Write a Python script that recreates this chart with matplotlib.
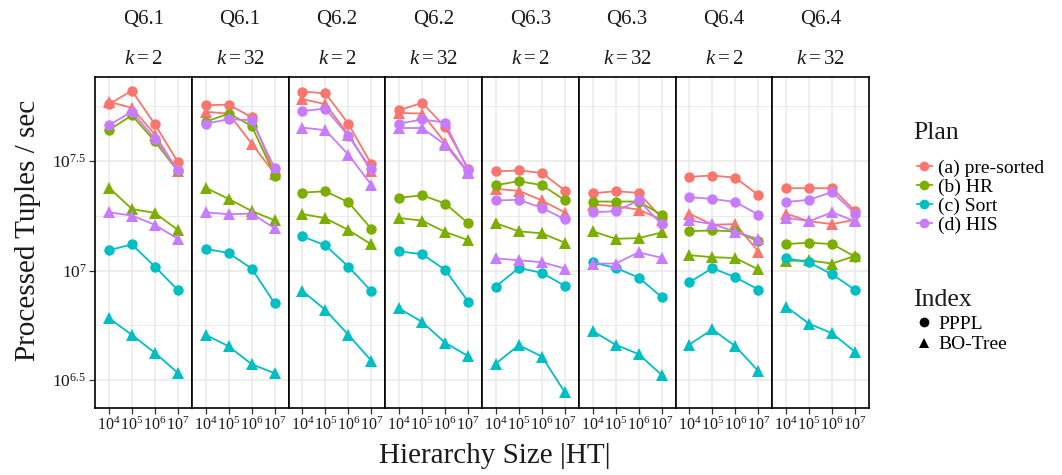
import matplotlib
matplotlib.use("Agg")
import matplotlib.pyplot as plt
from matplotlib.lines import Line2D
import numpy as np

plt.rcParams["font.family"] = ["Liberation Serif", "DejaVu Serif"]
plt.rcParams["mathtext.fontset"] = "custom"
plt.rcParams["mathtext.rm"] = "Liberation Serif"
plt.rcParams["mathtext.it"] = "Liberation Serif:italic"

# Facets: query and k
queries = ["Q6.1", "Q6.1", "Q6.2", "Q6.2", "Q6.3", "Q6.3", "Q6.4", "Q6.4"]
ks = [2, 32, 2, 32, 2, 32, 2, 32]

# Hierarchy sizes |HT|
sizes = [1e4, 1e5, 1e6, 1e7]
size_labels = ["$10^4$", "$10^5$", "$10^6$", "$10^7$"]

plans = ["(a) pre-sorted", "(b) HR", "(c) Sort", "(d) HIS"]
plan_colors = ["#F8766D", "#7CAE00", "#00BFC4", "#C77CFF"]
indexes = ["PPPL", "BO-Tree"]
index_markers = ["o", "^"]

# log10(processed tuples / sec) per facet, plan, index
presorted_pppl = [
    [7.760, 7.821, 7.668, 7.495], [7.755, 7.758, 7.700, 7.442],
    [7.817, 7.810, 7.670, 7.485], [7.732, 7.766, 7.656, 7.465],
    [7.453, 7.457, 7.446, 7.365], [7.353, 7.362, 7.355, 7.240],
    [7.428, 7.434, 7.424, 7.344], [7.376, 7.376, 7.376, 7.271],
]
presorted_bo = [
    [7.771, 7.743, 7.621, 7.453], [7.725, 7.717, 7.580, 7.442],
    [7.783, 7.760, 7.621, 7.453], [7.720, 7.717, 7.584, 7.450],
    [7.373, 7.364, 7.320, 7.265], [7.301, 7.294, 7.278, 7.232],
    [7.260, 7.209, 7.212, 7.086], [7.260, 7.225, 7.212, 7.232],
]
hr_pppl = [
    [7.641, 7.709, 7.590, 7.453], [7.679, 7.717, 7.661, 7.434],
    [7.356, 7.362, 7.312, 7.190], [7.332, 7.344, 7.306, 7.216],
    [7.390, 7.408, 7.390, 7.321], [7.315, 7.315, 7.315, 7.254],
    [7.180, 7.183, 7.179, 7.133], [7.121, 7.127, 7.121, 7.063],
]
hr_bo = [
    [7.379, 7.281, 7.263, 7.185], [7.378, 7.327, 7.272, 7.229],
    [7.258, 7.239, 7.185, 7.119], [7.240, 7.228, 7.176, 7.139],
    [7.216, 7.179, 7.170, 7.127], [7.179, 7.145, 7.148, 7.174],
    [7.070, 7.061, 7.057, 7.005], [7.044, 7.046, 7.032, 7.067],
]
sort_pppl = [
    [7.093, 7.119, 7.018, 6.910], [7.099, 7.080, 7.009, 6.850],
    [7.156, 7.115, 7.018, 6.905], [7.087, 7.075, 7.003, 6.858],
    [6.927, 7.012, 6.989, 6.930], [7.037, 7.012, 6.968, 6.879],
    [6.946, 7.011, 6.969, 6.913], [7.057, 7.037, 6.982, 6.911],
]
sort_bo = [
    [6.783, 6.706, 6.624, 6.532], [6.706, 6.654, 6.572, 6.531],
    [6.907, 6.820, 6.706, 6.587], [6.827, 6.765, 6.670, 6.609],
    [6.575, 6.659, 6.607, 6.443], [6.724, 6.661, 6.618, 6.523],
    [6.662, 6.731, 6.654, 6.540], [6.835, 6.757, 6.713, 6.628],
]
his_pppl = [
    [7.664, 7.725, 7.602, 7.457], [7.671, 7.691, 7.687, 7.468],
    [7.728, 7.740, 7.615, 7.462], [7.671, 7.690, 7.676, 7.457],
    [7.320, 7.323, 7.286, 7.234], [7.266, 7.271, 7.320, 7.211],
    [7.335, 7.327, 7.313, 7.255], [7.313, 7.323, 7.359, 7.260],
]
his_bo = [
    [7.266, 7.251, 7.209, 7.144], [7.266, 7.257, 7.260, 7.193],
    [7.653, 7.641, 7.529, 7.391], [7.651, 7.651, 7.575, 7.446],
    [7.055, 7.047, 7.038, 7.009], [7.032, 7.032, 7.083, 7.058],
    [7.229, 7.212, 7.177, 7.144], [7.242, 7.225, 7.266, 7.225],
]

series = {
    (0, 0): presorted_pppl, (0, 1): presorted_bo,
    (1, 0): hr_pppl, (1, 1): hr_bo,
    (2, 0): sort_pppl, (2, 1): sort_bo,
    (3, 0): his_pppl, (3, 1): his_bo,
}

W, H = 1062, 475
fig, axes = plt.subplots(1, 8, figsize=(W / 100, H / 100), dpi=100, sharey=True)
fig.subplots_adjust(left=95 / W, right=869 / W, top=1 - 77 / H,
                    bottom=1 - 408 / H, wspace=0)

grid_color = "#EBEBEB"
for i, ax in enumerate(axes):
    ax.set_xscale("log")
    ax.set_yscale("log")
    ax.set_xlim(10 ** 3.4, 10 ** 7.6)
    ax.set_ylim(10 ** 6.372, 10 ** 7.884)
    ax.set_facecolor("white")
    # grid: major at half decades, minor at quarter decades
    for e in [6.5, 7.0, 7.5]:
        ax.axhline(10 ** e, color=grid_color, lw=1.2, zorder=0)
    for e in [6.75, 7.25, 7.75]:
        ax.axhline(10 ** e, color=grid_color, lw=0.7, zorder=0)
    for s in sizes:
        ax.axvline(s, color=grid_color, lw=1.2, zorder=0)

    for (p, j), data in series.items():
        vals = 10 ** np.array(data[i])
        ax.plot(sizes, vals, color=plan_colors[p], lw=1.3,
                marker=index_markers[j], markersize=7.5 if j == 0 else 8,
                markeredgewidth=0, zorder=3)

    ax.set_xticks(sizes)
    ax.set_xticklabels(size_labels)
    ax.xaxis.set_minor_locator(matplotlib.ticker.NullLocator())
    ax.yaxis.set_minor_locator(matplotlib.ticker.NullLocator())
    ax.tick_params(axis="x", length=4, width=0.9, color="#333333",
                   labelsize=11.5, pad=2, labelcolor="#1a1a1a")
    ax.tick_params(axis="y", length=4, width=0.9, color="#333333",
                   labelsize=12.5, pad=2, labelcolor="#1a1a1a")
    for sp in ax.spines.values():
        sp.set_color("black")
        sp.set_linewidth(1.2)

    ax.set_title(f"{queries[i]}\n\n$k = {ks[i]}$", fontsize=15, pad=9,
                 linespacing=1.1, color="#1a1a1a")

axes[0].set_yticks([10 ** 6.5, 10 ** 7, 10 ** 7.5])
axes[0].set_yticklabels(["$10^{6.5}$", "$10^{7}$", "$10^{7.5}$"])
for ax in axes[1:]:
    ax.tick_params(axis="y", length=0)

fig.text(495 / W, 1 - 456 / H, "Hierarchy Size |HT|", ha="center",
         va="center", fontsize=21, color="#1a1a1a")
fig.text(28 / W, 1 - 230 / H, "Processed Tuples / sec", ha="center",
         va="center", rotation=90, fontsize=21, color="#1a1a1a")

# Legends: titles as separate text, keys below them
legend_kw = dict(loc="upper left", frameon=False, fontsize=14,
                 handlelength=0.75, handletextpad=0.35, borderaxespad=0,
                 borderpad=0)

fig.text(913 / W, 1 - 133 / H, "Plan", ha="left", va="center",
         fontsize=18.5, color="#1a1a1a")
plan_handles = [Line2D([], [], color=c, marker="o", lw=1.3, markersize=7,
                       markeredgewidth=0) for c in plan_colors]
leg1 = fig.legend(plan_handles, plans, bbox_to_anchor=(917 / W, 1 - 159 / H),
                  labelspacing=0.08, **legend_kw)

fig.text(913 / W, 1 - 300 / H, "Index", ha="left", va="center",
         fontsize=18.5, color="#1a1a1a")
index_handles = [Line2D([], [], color="black", marker=m, lw=0, markersize=7,
                        markeredgewidth=0) for m in index_markers]
leg2 = fig.legend(index_handles, indexes, bbox_to_anchor=(917 / W, 1 - 315 / H),
                  labelspacing=0.16, **legend_kw)

fig.savefig("out.png", dpi=100)
